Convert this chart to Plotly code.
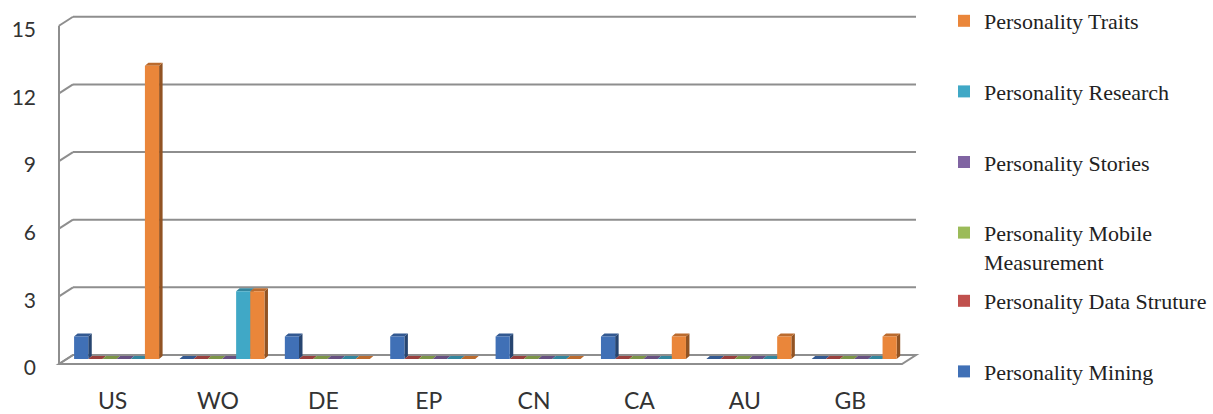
import plotly.graph_objects as go

# ---- data -----------------------------------------------------------------
categories = ["US", "WO", "DE", "EP", "CN", "CA", "AU", "GB"]

mining = [1, 0, 1, 1, 1, 1, 0, 0]
data_struture = [0, 0, 0, 0, 0, 0, 0, 0]
mobile_measurement = [0, 0, 0, 0, 0, 0, 0, 0]
stories = [0, 0, 0, 0, 0, 0, 0, 0]
research = [0, 3, 0, 0, 0, 0, 0, 0]
traits = [13, 3, 0, 0, 0, 1, 1, 1]

y_ticks = [0, 3, 6, 9, 12, 15]

# series in cluster order (left to right inside each category)
series = [
    ("Personality Mining", mining, "#4070B6", "legend2", 6),
    ("Personality Data Struture", data_struture, "#C0504D", "legend2", 5),
    ("Personality Mobile<br>Measurement", mobile_measurement, "#9BBB59", "legend", 4),
    ("Personality Stories", stories, "#8064A2", "legend", 3),
    ("Personality Research", research, "#40A8C6", "legend", 2),
    ("Personality Traits", traits, "#EA863A", "legend", 1),
]

# ---- geometry (pixels -> axis units) ----------------------------------------
W, H = 1213, 414
M_L, M_R, M_T, M_B = 59, 311, 10, 44
plot_w = W - M_L - M_R
plot_h = H - M_T - M_B
n = len(categories)
px_x = plot_w / n                 # pixels per category
px_y = 22.55                      # pixels per value unit
zero_px = 359 - M_T               # bar base, measured from top of plot area
y_range = [-(plot_h - zero_px) / px_y, zero_px / px_y]
x_shift = 4.9 / px_x
x_range = [-0.5 - x_shift, n - 0.5 - x_shift]

group_w = 85 / px_x               # width of one cluster of six bars
bar_w = group_w / len(series)
bar_dx = 3.5 / px_x               # depth of each bar (oblique projection)
bar_dy = 3.0 / px_y

wall_dx = 14 / plot_w             # depth of walls/floor, paper units
back_off = 4 / px_y               # back wall sits slightly above bar base
front_off = back_off - 9 / px_y   # front edge of floor / left wall


def shade(hex_color, k):
    r, g, b = (int(hex_color[i:i + 2], 16) for i in (1, 3, 5))
    return "rgb({},{},{})".format(int(r * k), int(g * k), int(b * k))


def paper_y(px):
    return (M_T + plot_h - px) / plot_h


fig = go.Figure()

# side and top faces of the 3D bars (drawn beneath the front faces)
for i, (name, vals, color, leg, rank) in enumerate(series):
    sx, sy, tx, ty = [], [], [], []
    for j, v in enumerate(vals):
        xl = j - group_w / 2 + i * bar_w
        xr = xl + bar_w
        sx += [xr, xr, xr + bar_dx, xr + bar_dx, xr, None]
        sy += [0, v, v + bar_dy, bar_dy, 0, None]
        tx += [xl, xr, xr + bar_dx, xl + bar_dx, xl, None]
        ty += [v, v, v + bar_dy, v + bar_dy, v, None]
    fig.add_trace(go.Scatter(
        x=sx, y=sy, mode="lines", fill="toself", line=dict(width=0),
        fillcolor=shade(color, 0.62), hoverinfo="skip", showlegend=False,
        legendgroup=name, xaxis="x", yaxis="y"))
    fig.add_trace(go.Scatter(
        x=tx, y=ty, mode="lines", fill="toself", line=dict(width=0),
        fillcolor=shade(color, 0.8), hoverinfo="skip", showlegend=False,
        legendgroup=name, xaxis="x", yaxis="y"))

# front faces
for i, (name, vals, color, leg, rank) in enumerate(series):
    fig.add_trace(go.Bar(
        x=list(range(n)), y=vals, name=name,
        width=bar_w, offset=-group_w / 2 + i * bar_w,
        marker=dict(color=color, line=dict(width=0)),
        legend=leg, legendgroup=name, legendrank=rank,
        xaxis="x2", yaxis="y2"))

# walls, floor and gridlines
grid_color = "#8E8E8E"
shapes = []
floor_path = "M 0,{f} L 1,{f} L {r},{b} L {d},{b} Z".format(
    f=front_off, b=back_off, r=1 + wall_dx, d=wall_dx)
shapes.append(dict(type="path", xref="paper", yref="y", path=floor_path,
                   fillcolor="white", line=dict(color=grid_color, width=2),
                   layer="below"))
for v in y_ticks:
    shapes.append(dict(type="line", xref="paper", yref="y",
                       x0=wall_dx, x1=1 + wall_dx, y0=v + back_off, y1=v + back_off,
                       line=dict(color=grid_color, width=2), layer="below"))
    shapes.append(dict(type="line", xref="paper", yref="y",
                       x0=0, x1=wall_dx, y0=v + front_off, y1=v + back_off,
                       line=dict(color=grid_color, width=2), layer="below"))
shapes.append(dict(type="line", xref="paper", yref="y",
                   x0=0, x1=0, y0=front_off, y1=y_ticks[-1] + front_off,
                   line=dict(color=grid_color, width=2), layer="below"))

legend_style = dict(
    font=dict(family="Liberation Serif", size=22, color="#222222"),
    bgcolor="rgba(0,0,0,0)", borderwidth=0, tracegroupgap=39,
    xanchor="left", yanchor="top", valign="top", maxheight=414,
)

fig.update_layout(
    width=W, height=H,
    margin=dict(l=M_L, r=M_R, t=M_T, b=M_B, autoexpand=False),
    paper_bgcolor="white", plot_bgcolor="rgba(0,0,0,0)",
    barmode="overlay",
    shapes=shapes,
    showlegend=True,
    legend=dict(x=(944 - M_L) / plot_w, y=paper_y(0), **legend_style),
    legend2=dict(x=(944 - M_L) / plot_w, y=paper_y(280), **legend_style),
    xaxis=dict(range=x_range, tickvals=list(range(n)), ticktext=categories,
               showgrid=False, zeroline=False, showline=False, ticks="",
               tickfont=dict(family="Lato", size=23, color="#333333"),
               ticklabelshift=-4, ticklabelstandoff=15, fixedrange=True),
    yaxis=dict(range=y_range, tickvals=y_ticks,
               showgrid=False, zeroline=False, showline=False, ticks="",
               tickfont=dict(family="Lato", size=21, color="#333333"),
               ticklabelshift=9, ticklabelstandoff=22, fixedrange=True),
    xaxis2=dict(range=x_range, overlaying="x", visible=False, fixedrange=True),
    yaxis2=dict(range=y_range, overlaying="y", visible=False, fixedrange=True),
)

fig.write_html("out.html")
